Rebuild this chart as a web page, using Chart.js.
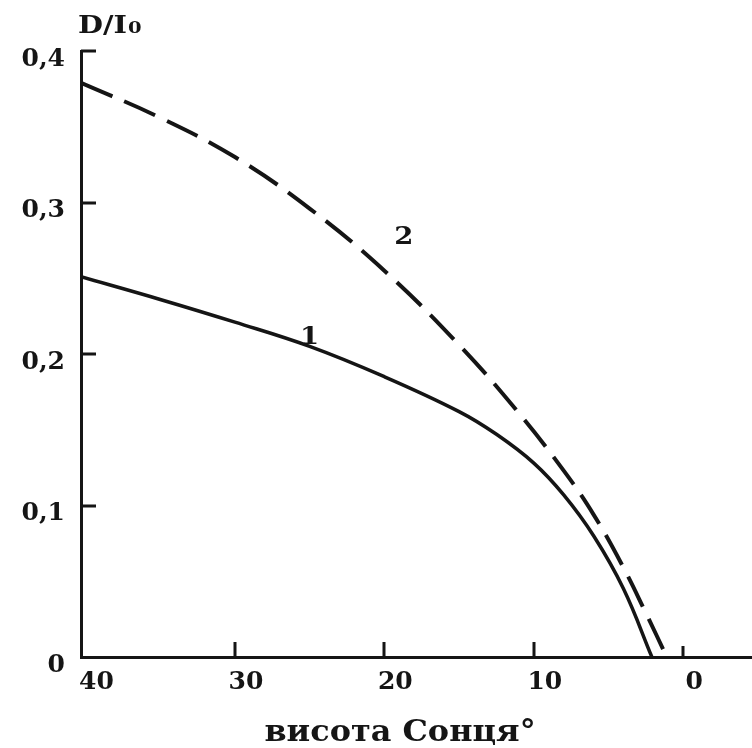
<!DOCTYPE html>
<html>
<head>
<meta charset="utf-8">
<script src="https://cdn.jsdelivr.net/npm/chart.js@4"></script>
<style>
  body { margin: 0; background: #fff; }
  #wrap { width: 752px; height: 748px; }
</style>
</head>
<body>
<div id="wrap"><canvas id="chart" width="752" height="748"></canvas></div>
<script>
// sun altitude (degrees) and the D/I0 ratio along each curve
const altitude1 = [40.3, 35, 30, 25, 20, 15, 12.5, 10, 8, 6, 4, 2.1];
const ratio1 = [0.251, 0.236, 0.221, 0.205, 0.185, 0.162, 0.147, 0.128, 0.107, 0.080, 0.045, 0];
const altitude2 = [40.3, 35, 30, 25, 20, 15, 11, 8, 6, 4, 2.5, 1.1];
const ratio2 = [0.379, 0.356, 0.330, 0.296, 0.255, 0.206, 0.161, 0.123, 0.094, 0.059, 0.029, 0];

const xTicks = [40, 30, 20, 10, 0];
const yTicks = [0, 0.1, 0.2, 0.3, 0.4];

// curve numbers, placed at [altitude, ratio]
const curveNames = ['1', '2'];
const curveNameAt = [[25.0, 0.211], [18.7, 0.277]];

const xTitle = 'висота Сонця°';
const yTitle = 'D/I';
const yTitleSub = '0';

const ink = '#151515';
const serif = '"DejaVu Serif", "Liberation Serif", serif';

const toPoints = (xs, ys) => xs.map((x, i) => ({ x, y: ys[i] }));

// draws text a little wider than the font's own proportions
function wideText(ctx, text, x, y, stretch) {
    ctx.save();
    ctx.translate(x, y);
    ctx.scale(stretch, 1);
    ctx.fillText(text, 0, 0);
    ctx.restore();
}

// short inward tick marks plus the free-standing captions
const axisDecor = {
    id: 'axisDecor',
    afterDraw(chart) {
        const { ctx, chartArea, scales: { x, y } } = chart;
        ctx.save();
        ctx.strokeStyle = ink;
        ctx.lineWidth = 3;
        ctx.beginPath();
        yTicks.filter(v => v > 0).forEach(v => {
            const py = Math.round(y.getPixelForValue(v));
            ctx.moveTo(chartArea.left, py);
            ctx.lineTo(chartArea.left + 15, py);
        });
        xTicks.filter(v => v < 40).forEach(v => {
            const px = Math.round(x.getPixelForValue(v));
            ctx.moveTo(px, chartArea.bottom);
            ctx.lineTo(px, chartArea.bottom - (v === 0 ? 11 : 15));
        });
        ctx.stroke();

        ctx.fillStyle = ink;
        ctx.textBaseline = 'middle';
        ctx.textAlign = 'center';
        ctx.font = 'bold 25px ' + serif;
        curveNames.forEach((name, i) => {
            const [a, r] = curveNameAt[i];
            wideText(ctx, name, x.getPixelForValue(a), y.getPixelForValue(r), 1.1);
        });

        ctx.font = 'bold 29px ' + serif;
        wideText(ctx, xTitle, 400, 733, 1.1);

        ctx.textAlign = 'left';
        ctx.textBaseline = 'alphabetic';
        ctx.font = 'bold 25px ' + serif;
        wideText(ctx, yTitle, 78, 33, 1.15);
        const w = ctx.measureText(yTitle).width * 1.15;
        ctx.font = 'bold 17px ' + serif;
        wideText(ctx, yTitleSub, 78 + w + 1, 33, 1.15);
        ctx.restore();
    }
};

const tickFont = { family: serif, weight: 'bold', size: 25 };

new Chart(document.getElementById('chart'), {
    type: 'line',
    data: {
        datasets: [
            {
                label: '1',
                data: toPoints(altitude1, ratio1),
                borderColor: ink,
                borderWidth: 3.5,
                pointRadius: 0,
                tension: 0.4,
                fill: false,
            },
            {
                label: '2',
                data: toPoints(altitude2, ratio2),
                borderColor: ink,
                borderWidth: 4,
                borderDash: [34, 13],
                pointRadius: 0,
                tension: 0.4,
                fill: false,
            },
        ],
    },
    options: {
        responsive: false,
        animation: false,
        layout: { padding: { top: 51, right: 0, left: 0, bottom: 0 } },
        scales: {
            x: {
                type: 'linear',
                reverse: true,
                min: -4.6,
                max: 40.3,
                afterBuildTicks: s => { s.ticks = xTicks.map(v => ({ value: v })); },
                afterFit: s => { s.height = 91; },
                grid: { display: false, drawTicks: false, tickLength: 0 },
                border: { display: true, color: ink, width: 3 },
                ticks: {
                    color: ink,
                    font: tickFont,
                    padding: 10,
                    labelOffset: 11,
                    maxRotation: 0,
                    callback: v => String(v),
                },
            },
            y: {
                min: 0,
                max: 0.4,
                afterBuildTicks: s => { s.ticks = yTicks.map(v => ({ value: v })); },
                afterFit: s => { s.width = 81; },
                grid: { display: false, drawTicks: false, tickLength: 0 },
                border: { display: true, color: ink, width: 3 },
                ticks: {
                    color: ink,
                    font: tickFont,
                    padding: 16,
                    labelOffset: 8,
                    callback: v => (v === 0 ? '0' : v.toFixed(1).replace('.', ',')),
                },
            },
        },
        plugins: {
            legend: { display: false },
            tooltip: { enabled: false },
        },
    },
    plugins: [axisDecor],
});
</script>
</body>
</html>
